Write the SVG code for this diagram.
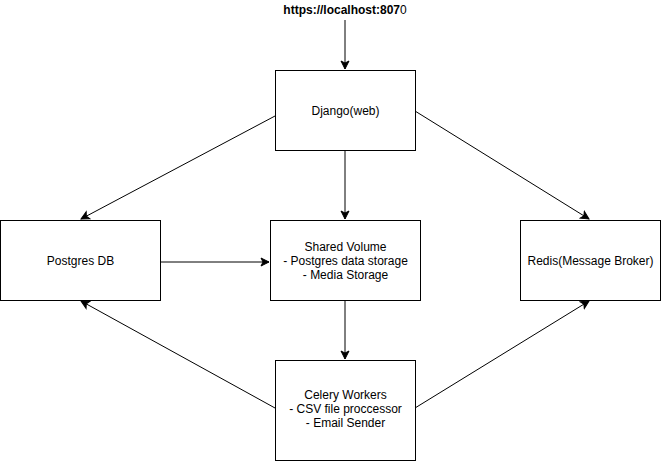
<svg xmlns="http://www.w3.org/2000/svg" width="661" height="461" viewBox="0 0 661 461">
<style>
.box{fill:#fff;stroke:#000;stroke-width:1}
.t{font-family:"Liberation Sans",Arial,sans-serif;font-size:12px;fill:#000;text-anchor:middle}
.e{fill:none;stroke:#000;stroke-width:1;marker-end:url(#ah)}
</style>
<defs>
<marker id="ah" viewBox="0 0 10 10" refX="9" refY="5" markerWidth="10" markerHeight="10" markerUnits="userSpaceOnUse" orient="auto">
<path d="M1,1 L9,5 L1,9 L3,5 Z" fill="#000" stroke="#000" stroke-width="1"/>
</marker>
</defs>
<rect width="661" height="461" fill="#fff"/>
<g id="connectors">
<line class="e" x1="345" y1="20" x2="345" y2="69"/>
<line class="e" x1="275" y1="116" x2="81" y2="219"/>
<line class="e" x1="345" y1="150" x2="345" y2="219"/>
<line class="e" x1="415" y1="111" x2="589" y2="219"/>
<line class="e" x1="160" y1="262" x2="269" y2="262"/>
<line class="e" x1="345" y1="300" x2="345" y2="359"/>
<line class="e" x1="275" y1="408" x2="81" y2="301"/>
<line class="e" x1="415" y1="408" x2="589" y2="301"/>
</g>
<g id="url">
<text class="t" x="345" y="14"><tspan font-weight="bold">https://localhost:807</tspan>0</text>
</g>
<g id="django">
<rect class="box" x="275.5" y="70.5" width="140" height="80"/>
<text class="t" x="345.5" y="115">Django(web)</text>
</g>
<g id="postgres">
<rect class="box" x="0.5" y="220.5" width="160" height="80"/>
<text class="t" x="80.5" y="265">Postgres DB</text>
</g>
<g id="shared">
<rect class="box" x="270.5" y="220.5" width="150" height="80"/>
<text class="t" x="345.5" y="251">Shared Volume</text>
<text class="t" x="345.5" y="265">- Postgres data storage</text>
<text class="t" x="345.5" y="279">- Media Storage</text>
</g>
<g id="redis">
<rect class="box" x="520.5" y="220.5" width="140" height="80"/>
<text class="t" x="590.5" y="265">Redis(Message Broker)</text>
</g>
<g id="celery">
<rect class="box" x="275.5" y="360.5" width="140" height="100"/>
<text class="t" x="345.5" y="399">Celery Workers</text>
<text class="t" x="345.5" y="413">- CSV file proccessor</text>
<text class="t" x="345.5" y="427">- Email Sender</text>
</g>
</svg>
